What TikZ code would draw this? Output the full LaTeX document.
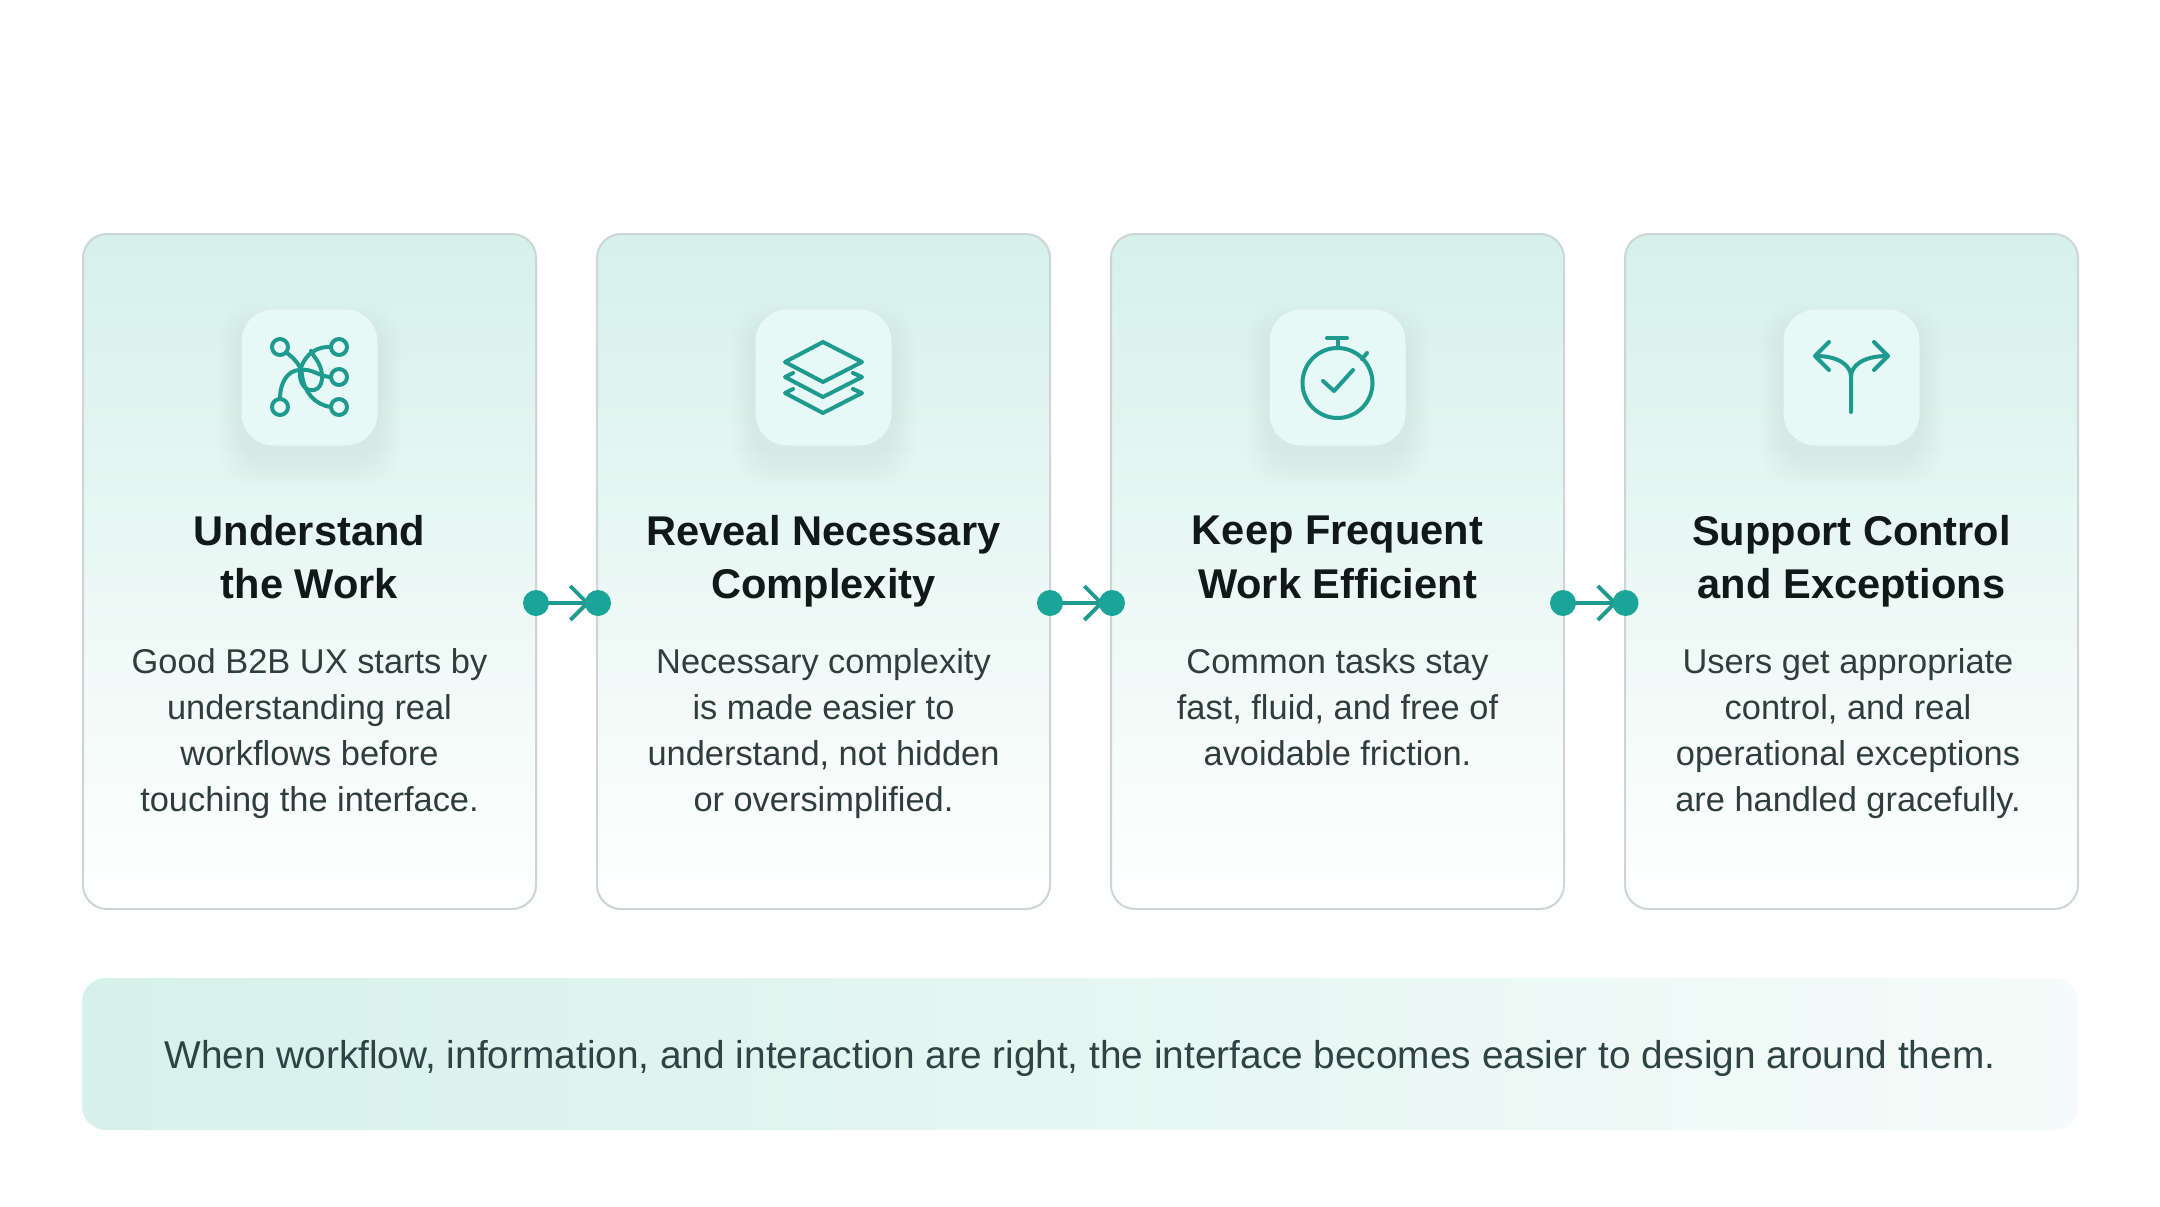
\documentclass[tikz,border=0pt]{standalone}
\usepackage{fontspec}
\setmainfont{Liberation Sans}
\usetikzlibrary{arrows.meta,positioning}
\definecolor{teal}{HTML}{1BA498}
\definecolor{icon}{HTML}{1F9A8E}
\definecolor{cardtop}{HTML}{D6F1EA}
\definecolor{cardmid}{HTML}{E6F7F3}
\definecolor{cardline}{HTML}{CDD6D5}
\definecolor{tilefill}{HTML}{E7F9F6}
\definecolor{ttl}{HTML}{111818}
\definecolor{bodyc}{HTML}{2F3D3D}
\definecolor{bandc}{HTML}{2E4444}
\pgfdeclarelayer{cardlayer}
\pgfdeclarelayer{connlayer}
\pgfsetlayers{cardlayer,connlayer,main}
\tikzset{
  card/.style={draw=cardline,line width=1pt,rounded corners=12pt,minimum width=226.5pt,minimum height=337.5pt,
    top color=cardtop,middle color=cardmid,bottom color=white,inner sep=0pt},
  tile/.style={rounded corners=16pt,fill=tilefill,minimum width=68pt,minimum height=68pt,inner sep=0pt},
  band/.style={rounded corners=12pt,left color=cardtop,right color=cardtop!25!white,minimum width=998pt,minimum height=76pt,inner sep=0pt},
  title/.style={align=center,font=\fontsize{20.8pt}{26.9pt}\selectfont\bfseries,text=ttl,inner sep=0pt,
    execute at begin node=\strut,execute at end node=\strut},
  bodytext/.style={align=center,font=\fontsize{17.2pt}{22.9pt}\selectfont,text=bodyc,inner sep=0pt,
    execute at begin node=\strut,execute at end node=\strut},
  bandtext/.style={font=\fontsize{19.4pt}{24pt}\selectfont,text=bandc,inner sep=0pt},
  dot/.style={circle,fill=teal,minimum size=13pt,inner sep=0pt},
  conn/.style={draw=icon,line width=1.7pt,shorten >=4pt,-{Straight Barb[length=8.5pt,width=17pt,line width=1.9pt]}},
  ic/.style={draw=icon,line width=2pt,line cap=round,line join=round},
}
\begin{document}
\begin{tikzpicture}[x=0.5pt,y=-0.5pt]
\useasboundingbox (0,0) rectangle (2160,1206);
\begin{pgfonlayer}{cardlayer}
\fill[white] (0,0) rectangle (2160,1206);
\node[card] (c1) at (309.5,571.5) {};
\node[card] (c2) at (823.5,571.5) {};
\node[card] (c3) at (1337.5,571.5) {};
\node[card] (c4) at (1851.5,571.5) {};
\node[band] (bandbox) at (1080,1054) {};
\end{pgfonlayer}
% tile shadows
\foreach \cx in {309.5,823.5,1337.5,1851.5}{
  \foreach \g in {2,4,...,24}{
    \fill[black!45!teal,opacity=0.005,rounded corners=18pt]
      (\cx-68-\g,309+18-\g) rectangle (\cx+68+\g,445+18+\g);
  }
}
\node[tile] (t1) at (309.5,377.5) {};
\node[tile] (t2) at (823.5,377.5) {};
\node[tile] (t3) at (1337.5,377.5) {};
\node[tile] (t4) at (1851.5,377.5) {};
% icon 1
\foreach \px/\py in {280/347,280/407,339/347,339/377,339/407}
  \draw[ic] (\px,\py) circle[radius=8];
\draw[ic] (287,353) .. controls (296,360) and (301,366) .. (302,375) .. controls (304,392) and (315,405) .. (331,407);
\draw[ic] (280,399) .. controls (280,382) and (288,370) .. (300,370) .. controls (312,368) and (320,377) .. (331,377);
\draw[ic] (331,347) .. controls (312,346) and (302,360) .. (300,372) .. controls (299,382) and (305,392) .. (314,390) .. controls (324,388) and (324,372) .. (318,362) .. controls (315,357) and (312,354) .. (311,351);
% icon 2
\draw[ic] (823,342) -- (862,362) -- (823,382) -- (785,362) -- cycle;
\draw[ic] (793,373) -- (785,377) -- (823,397) -- (862,377) -- (853,373);
\draw[ic] (793,389) -- (785,393) -- (823,413) -- (862,393) -- (853,389);
% icon 3
\draw[ic] (1337.5,383) circle[radius=35];
\draw[ic] (1337.5,348) -- (1337.5,338);
\draw[ic] (1327,338) -- (1347,338);
\draw[ic] (1362,359) -- (1367,353);
\draw[ic] (1323,381) -- (1334,391) -- (1353,370);
% icon 4
\draw[ic] (1851,412) -- (1851,377) .. controls (1851,365) and (1838,356) .. (1816,356);
\draw[ic] (1851,377) .. controls (1851,365) and (1864,356) .. (1887,356);
\draw[ic] (1829,342) -- (1815,356) -- (1829,370);
\draw[ic] (1874,342) -- (1888,356) -- (1874,370);
% titles
\node[title] (h1) at (309.5,565) {Understand\\the Work};
\node[title] (h2) at (823.5,565) {Reveal Necessary\\Complexity};
\node[title] (h3) at (1337.5,565) {Keep Frequent\\Work Efficient};
\node[title] (h4) at (1851.5,565) {Support Control\\and Exceptions};
% bodies
\node[bodytext] (b1) at (309.5,737) {Good B2B UX starts by\\understanding real\\workflows before\\touching the interface.};
\node[bodytext] (b2) at (823.5,737) {Necessary complexity\\is made easier to\\understand, not hidden\\or oversimplified.};
\node[bodytext] (b3) at (1337.5,714) {Common tasks stay\\fast, fluid, and free of\\avoidable friction.};
\node[bodytext] (b4) at (1848,737) {Users get appropriate\\control, and real\\operational exceptions\\are handled gracefully.};
\node[bandtext] (bt) at (1080,1058) {When workflow, information, and interaction are right, the interface becomes easier to design around them.};
% connectors
\node[dot] (d1a) at (536,603) {};
\node[dot] (d1b) at (598,603) {};
\node[dot] (d2a) at (1050,603) {};
\node[dot] (d2b) at (1112,603) {};
\node[dot] (d3a) at (1563,603) {};
\node[dot] (d3b) at (1625.5,603) {};
\begin{pgfonlayer}{connlayer}
\draw[conn] (d1a.center) -- (d1b.center);
\draw[conn] (d2a.center) -- (d2b.center);
\draw[conn] (d3a.center) -- (d3b.center);
\end{pgfonlayer}
\end{tikzpicture}
\end{document}
